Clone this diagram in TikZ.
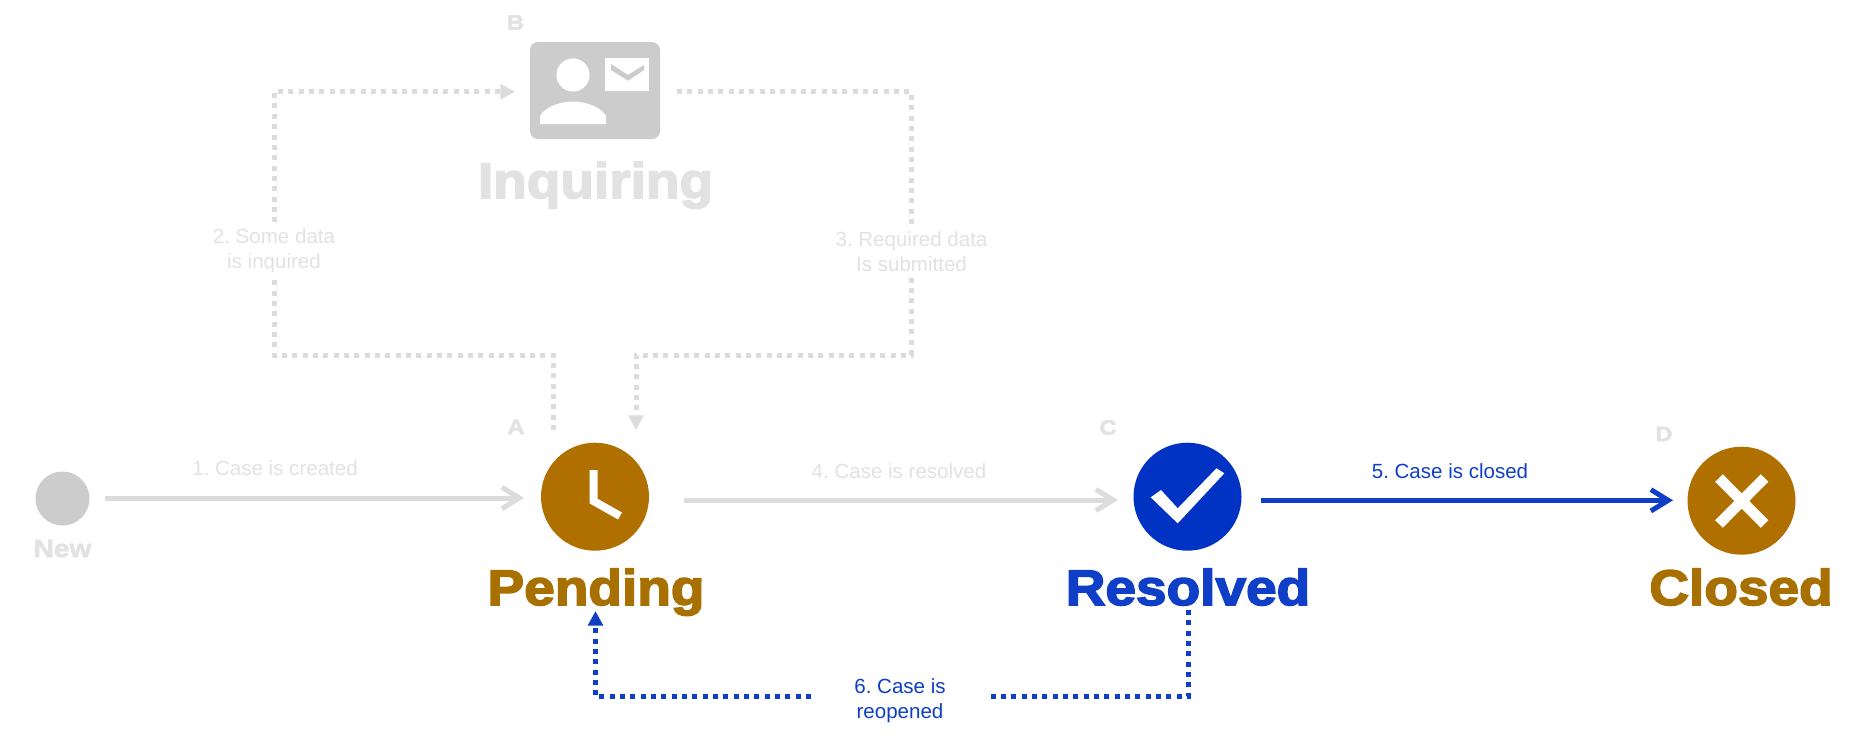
\documentclass[tikz,border=0pt]{standalone}
\usepackage{fontspec}
\usetikzlibrary{arrows.meta,calc}
\setmainfont{Liberation Sans}
\newfontface\heavyfont{Liberation Sans Bold}[FakeBold=3.2,FakeStretch=1.1]
\newfontface\smallheavy{Liberation Sans Bold}[FakeBold=2.4,FakeStretch=1.14]
\definecolor{fadeline}{HTML}{DCDCDC}
\definecolor{fadetext}{HTML}{E2E2E2}
\definecolor{fadeicon}{HTML}{CCCCCC}
\definecolor{brownc}{HTML}{B07000}
\definecolor{brownt}{HTML}{A87000}
\definecolor{bluec}{HTML}{0033C4}
\definecolor{bluel}{HTML}{0F3FC6}
\tikzset{
 big/.style={inner sep=0pt,anchor=base,font=\heavyfont\fontsize{37.5pt}{40pt}\selectfont},
 letter/.style={inner sep=0pt,font=\smallheavy\fontsize{15.5pt}{16pt}\selectfont,text=fadetext},
 lbl/.style={inner xsep=0pt,inner ysep=0pt,align=center,font=\frenchspacing\fontsize{15.4pt}{18.75pt}\selectfont},
 disc/.style={circle,inner sep=0pt,minimum size=81pt},
 solidline/.style={line width=3.75pt,-{Straight Barb[length=13pt,width=16pt]}},
 dots/.style={line width=3.75pt,dash pattern=on 3.75pt off 4pt},
 dotarrow/.style={dots,-{Stealth[length=11pt,width=11pt,inset=0pt]}},
}
\begin{document}
\begin{tikzpicture}[x=0.75pt,y=-0.75pt]
\useasboundingbox[fill=white] (0,0) rectangle (1873,739);
% discs
\node[circle,inner sep=0pt,minimum size=40.5pt,fill=fadeicon] (new) at (62.5,498.5) {};
\node[disc,fill=brownc] (pending) at (595,496.7) {};
\node[disc,fill=bluec] (resolved) at (1187.5,496.7) {};
\node[disc,fill=brownc] (closed) at (1741.5,500.7) {};
% inquiring icon
\node[draw=none,fill=fadeicon,rounded corners=6pt,minimum width=97.5pt,minimum height=72.75pt,inner sep=0pt] (inq) at (595,90.5) {};
\fill[white] (573,75) circle (12.4pt);
\fill[white] (540,124) -- (540,116) .. controls (545,107) and (560,101.5) .. (573,101.5) .. controls (586,101.5) and (601,107) .. (606,116) -- (606,124) -- cycle;
\fill[white] (605,58) rectangle (649,91);
\fill[fadeicon] (611,64) -- (628,75) -- (644,65) -- (644,70) -- (628,80.7) -- (611,70) -- cycle;
% clock
\draw[white,line width=6pt,miter limit=4] (593.5,470) -- (593.5,501) -- (620,516);
% check
\fill[white] (1150.7,497.3) -- (1161,490) -- (1177.7,508.3) -- (1216.5,468.3) -- (1224.3,473.3) -- (1177.7,523.3) -- cycle;
% cross
\draw[white,line width=8pt] (1719,478) -- (1764.5,524) (1764.5,478) -- (1719,524);
% big labels
\node[big,text=fadetext] (inqt) at (595.5,198) {Inquiring};
\node[big,text=brownt] (pendt) at (596,605) {Pending};
\node[big,text=bluel] (rest) at (1188,605) {Resolved};
\node[big,text=brownt] (clot) at (1741,605) {Closed};
\node[inner sep=0pt,anchor=base,font=\smallheavy\fontsize{18.5pt}{20pt}\selectfont,text=fadetext] (newt) at (62.5,557) {New};
\node[letter] (la) at (516,427) {A};
\node[letter] (lb) at (515.5,22.5) {B};
\node[letter] (lc) at (1108,427.5) {C};
\node[letter] (ld) at (1664,434) {D};
% labels
\node[lbl,text=fadetext] (e1) at (275,468) {1. Case is created};
\node[lbl,text=fadetext,inner ysep=4.5pt] (e2) at (274,250.5) {2. Some data\\is inquired};
\node[lbl,text=fadetext,inner ysep=4.5pt] (e3) at (911.5,251.5) {3. Required data\\Is submitted};
\node[lbl,text=fadetext] (e4) at (899,471) {4. Case is resolved};
\node[lbl,text=bluel] (e5) at (1450,471) {5. Case is closed};
\node[lbl,text=bluel,minimum width=133pt] (e6) at (900,700.5) {6. Case is\\reopened};
% free ends
\coordinate (a1s) at (104.7,498);
\coordinate (a1e) at (524,498);
\coordinate (a4s) at (683.5,500);
\coordinate (a4e) at (1118,500);
\coordinate (a5s) at (1260.6,500.3);
\coordinate (a5e) at (1673,500.3);
\coordinate (b2s) at (553,430);
\coordinate (b2e) at (515,91.7);
\coordinate (b3s) at (677,91.7);
\coordinate (b3e) at (636,430);
\coordinate (b6s) at (1188,610);
\coordinate (b6e) at (595.5,611);
\coordinate (b6r) at (1188,696.7);
\coordinate (b6l) at (595.5,696.7);
% connectors
\draw[solidline,fadeline] (a1s) -- (a1e);
\draw[solidline,fadeline] (a4s) -- (a4e);
\draw[solidline,bluel] (a5s) -- (a5e);
\draw[dots,fadeline] (b2s) -- (553,355) -- (274,355) -- (e2.south);
\draw[dotarrow,fadeline] (e2.north) -- (274,91.7) -- (b2e);
\draw[dots,fadeline] (b3s) -- (911.5,91.7) -- (e3.north);
\draw[dotarrow,fadeline] (e3.south) -- (911.5,355) -- (636,355) -- (b3e);
\draw[dots,bluel] (b6s) -- (b6r) -- (e6.east |- b6r);
\draw[dotarrow,bluel] (e6.west |- b6l) -- (b6l) -- (b6e);
\end{tikzpicture}
\end{document}
